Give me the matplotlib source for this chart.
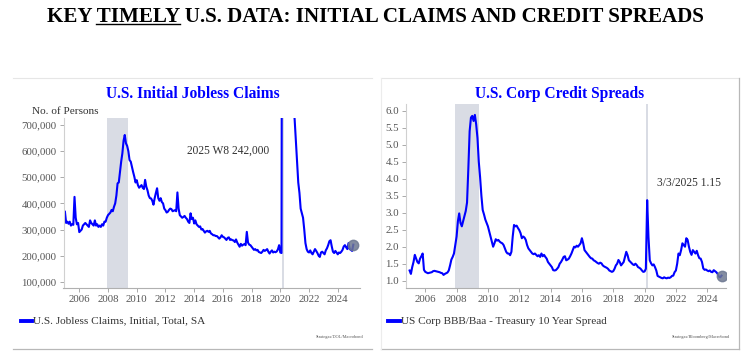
import numpy as np
import matplotlib
matplotlib.use("Agg")
import matplotlib.pyplot as plt
from matplotlib.lines import Line2D
from matplotlib.ticker import FuncFormatter

plt.rcParams["font.family"] = ["Liberation Serif", "DejaVu Serif"]

# --- data (monthly readings) ---
claims_start = 2005.0
claims_k = [
    368, 325, 330, 322, 330, 315, 320, 318, 425, 345, 320, 325,   # 2005
    290, 295, 300, 315, 320, 325, 320, 315, 310, 335, 325, 320,   # 2006
    315, 335, 315, 320, 310, 315, 310, 320, 315, 330, 330, 345,   # 2007
    355, 360, 365, 375, 370, 387, 400, 430, 477, 480, 520, 560,   # 2008
    592, 640, 662, 630, 620, 600, 566, 560, 540, 520, 502, 480,   # 2009
    489, 470, 460, 465, 470, 460, 455, 490, 464, 450, 430, 420,   # 2010
    419, 410, 395, 420, 440, 458, 420, 410, 420, 405, 400, 380,   # 2011
    374, 365, 368, 375, 380, 378, 370, 372, 374, 370, 442, 380,   # 2012
    355, 350, 345, 348, 352, 345, 340, 330, 325, 362, 340, 345,   # 2013
    323, 335, 320, 315, 310, 312, 300, 302, 295, 288, 293, 295,   # 2014
    291, 295, 285, 282, 278, 278, 275, 275, 270, 265, 270, 278,   # 2015
    272, 270, 265, 260, 268, 270, 260, 262, 259, 258, 252, 262,   # 2016
    250, 242, 234, 245, 238, 242, 244, 240, 291, 250, 242, 240,   # 2017
    234, 228, 222, 225, 220, 222, 214, 212, 210, 215, 222, 218,   # 2018
    221, 225, 215, 208, 215, 220, 212, 215, 213, 216, 224, 240,   # 2019
    212, 210, 3300, 5000, 2400, 1500, 1400, 1100, 900, 800, 760, 780,  # 2020
    720, 640, 560, 480, 440, 380, 363, 345, 300, 248, 225, 215,   # 2021
    212, 220, 210, 205, 215, 225, 218, 210, 200, 195, 212, 215,   # 2022
    210, 205, 220, 228, 240, 255, 259, 235, 215, 210, 218, 212,   # 2023
    205, 212, 210, 215, 222, 235, 240, 232, 225, 248, 225, 222,   # 2024
    218, 242,                                                     # 2025
]

spread_start = 2005.0
spread = [
    1.30, 1.20, 1.40, 1.55, 1.76, 1.65, 1.55, 1.51, 1.65, 1.72, 1.80, 1.32,  # 2005
    1.26, 1.24, 1.22, 1.23, 1.24, 1.25, 1.28, 1.29, 1.28, 1.27, 1.26, 1.25,  # 2006
    1.23, 1.22, 1.17, 1.20, 1.22, 1.24, 1.30, 1.45, 1.62, 1.70, 1.80, 2.05,  # 2007
    2.30, 2.75, 2.98, 2.70, 2.60, 2.75, 2.90, 3.05, 3.30, 4.30, 5.40, 5.80,  # 2008
    5.85, 5.70, 5.88, 5.60, 5.20, 4.50, 4.05, 3.50, 3.08, 2.95, 2.80, 2.70,  # 2009
    2.60, 2.45, 2.30, 2.15, 2.00, 2.10, 2.22, 2.18, 2.20, 2.15, 2.12, 2.10,  # 2010
    2.05, 1.95, 1.85, 1.80, 1.80, 1.75, 1.85, 2.30, 2.64, 2.60, 2.62, 2.55,  # 2011
    2.49, 2.40, 2.25, 2.30, 2.27, 2.20, 2.05, 1.95, 1.90, 1.85, 1.80, 1.78,  # 2012
    1.80, 1.76, 1.72, 1.75, 1.70, 1.80, 1.72, 1.76, 1.70, 1.65, 1.55, 1.50,  # 2013
    1.45, 1.40, 1.31, 1.30, 1.31, 1.35, 1.40, 1.50, 1.55, 1.62, 1.70, 1.72,  # 2014
    1.60, 1.62, 1.65, 1.72, 1.80, 1.90, 2.00, 1.98, 2.03, 2.00, 2.05, 2.10,  # 2015
    2.25, 2.10, 1.90, 1.85, 1.80, 1.75, 1.70, 1.66, 1.65, 1.60, 1.58, 1.55,  # 2016
    1.52, 1.50, 1.53, 1.51, 1.45, 1.42, 1.40, 1.38, 1.35, 1.30, 1.28, 1.26,  # 2017
    1.28, 1.35, 1.45, 1.50, 1.61, 1.55, 1.45, 1.50, 1.55, 1.70, 1.85, 1.75,  # 2018
    1.60, 1.56, 1.52, 1.48, 1.46, 1.50, 1.46, 1.40, 1.38, 1.35, 1.30, 1.26,  # 2019
    1.27, 1.35, 3.37, 2.29, 1.60, 1.51, 1.45, 1.48, 1.40, 1.30, 1.14, 1.12,  # 2020
    1.10, 1.08, 1.07, 1.10, 1.08, 1.07, 1.09, 1.08, 1.10, 1.14, 1.15, 1.25,  # 2021
    1.30, 1.50, 1.80, 1.75, 1.90, 2.10, 2.05, 2.00, 2.25, 2.20, 2.00, 1.85,  # 2022
    1.76, 1.90, 1.85, 1.80, 1.88, 1.75, 1.66, 1.65, 1.55, 1.36, 1.32, 1.33,  # 2023
    1.30, 1.28, 1.30, 1.26, 1.25, 1.31, 1.28, 1.25, 1.20, 1.12, 1.10, 1.15,  # 2024
]

recessions = [(2007.92, 2009.42), (2020.1, 2020.25)]
year_ticks = list(range(2006, 2026, 2))

claims_t = claims_start + np.arange(len(claims_k)) / 12
claims = np.array(claims_k) * 1000
spread_t = spread_start + np.arange(len(spread)) / 12
spread = np.array(spread)

W, H = 750, 357
BLUE = "#0000ff"
SHADE = "#d9dce4"
TICK_C = "#555555"

fig = plt.figure(figsize=(7.5, 3.57), dpi=100)


def fx(px):
    return px / W


def fy(py):
    return 1 - py / H


# panel frames
for x0, x1 in [(13, 372), (381, 739)]:
    fig.add_artist(Line2D([fx(x0), fx(x1)], [fy(78), fy(78)], color="#e6e6e6", lw=0.8))
    fig.add_artist(Line2D([fx(x0), fx(x1)], [fy(349), fy(349)], color="#b8b8b8", lw=0.9))
fig.add_artist(Line2D([fx(381), fx(381)], [fy(78), fy(349)], color="#ececec", lw=0.8))
fig.add_artist(Line2D([fx(739), fx(739)], [fy(78), fy(349)], color="#b8b8b8", lw=0.9))

# main title with underlined TIMELY
title = "KEY TIMELY U.S. DATA: INITIAL CLAIMS AND CREDIT SPREADS"
tkw = dict(fontsize=15.1, fontweight="bold", color="black")
t = fig.text(0.5, fy(17.5), title, ha="center", va="center", **tkw)
r = fig.canvas.get_renderer()
bb = t.get_window_extent(r)
m1 = fig.text(0, 0, "KEY TIMELY", **tkw)
m2 = fig.text(0, 0, "TIMELY", **tkw)
w1 = m1.get_window_extent(r).width
w2 = m2.get_window_extent(r).width
m1.remove()
m2.remove()
ux0 = bb.x0 + (w1 - w2)
ux1 = bb.x0 + w1
uy = bb.y0 + 3.5
fig.add_artist(Line2D([ux0 / W, ux1 / W], [uy / H, uy / H], color="black", lw=1.0))


def style(ax):
    for s in ("top", "right"):
        ax.spines[s].set_visible(False)
    ax.spines["left"].set_color("#d0d0d0")
    ax.spines["bottom"].set_color("#b0b0b0")
    ax.tick_params(axis="both", colors="#aaaaaa", labelcolor=TICK_C,
                   labelsize=7.8, length=3, width=0.7, pad=2)
    ax.set_xticks(year_ticks)
    ax.set_xticklabels([str(y) for y in year_ticks])
    for a, b in recessions:
        ax.axvspan(a, b, color=SHADE, lw=0, zorder=0)


# --- left: initial claims ---
ax1 = fig.add_axes([fx(63.5), fy(288), fx(360 - 63.5), 170 / H])
ax1.plot(claims_t, claims, color=BLUE, lw=1.5, zorder=2)
ax1.plot(claims_t[-1], claims[-1], "o", ms=7.5, color="#6d7891", alpha=0.85, zorder=3)
ax1.set_xlim(2004.9, 2025.55)
ax1.set_ylim(76000, 727000)
ax1.set_yticks(range(100000, 800000, 100000))
ax1.yaxis.set_major_formatter(FuncFormatter(lambda v, p: f"{int(v):,}"))
style(ax1)
ax1.text(2013.5, 600000, "2025 W8 242,000", fontsize=8.3, color="#333333",
         ha="left", va="center")

fig.text(fx(193), fy(94), "U.S. Initial Jobless Claims", ha="center", va="center",
         fontsize=11.2, fontweight="bold", color=BLUE)
fig.text(fx(32), fy(111), "No. of Persons", ha="left", va="center",
         fontsize=8.1, color="#333333")
fig.add_artist(Line2D([fx(21), fx(32)], [fy(321), fy(321)], color=BLUE, lw=2.8))
fig.text(fx(33), fy(321), "U.S. Jobless Claims, Initial, Total, SA", ha="left",
         va="center", fontsize=8.1, color="#333333")
fig.text(fx(363), fy(337), "Strategas/DOL/Macrobond", ha="right", va="center",
         fontsize=3.2, color="#555555")

# --- right: credit spreads ---
ax2 = fig.add_axes([fx(406), fy(288), fx(726 - 406), 184 / H])
ax2.plot(spread_t, spread, color=BLUE, lw=1.5, zorder=2)
ax2.plot(spread_t[-1], spread[-1], "o", ms=7.5, color="#6d7891", alpha=0.85, zorder=3)
ax2.set_xlim(2004.77, 2025.2)
ax2.set_ylim(0.785, 6.2)
ax2.set_yticks(np.arange(1.0, 6.01, 0.5))
ax2.yaxis.set_major_formatter(FuncFormatter(lambda v, p: f"{v:.1f}"))
style(ax2)
ax2.text(2020.8, 3.87, "3/3/2025 1.15", fontsize=8.3, color="#333333",
         ha="left", va="center")

fig.text(fx(560), fy(94), "U.S. Corp Credit Spreads", ha="center", va="center",
         fontsize=11.2, fontweight="bold", color=BLUE)
fig.add_artist(Line2D([fx(388), fx(400)], [fy(321), fy(321)], color=BLUE, lw=2.8))
fig.text(fx(401), fy(321), "US Corp BBB/Baa - Treasury 10 Year Spread", ha="left",
         va="center", fontsize=8.1, color="#333333")
fig.text(fx(730), fy(337), "Strategas/Bloomberg/Macrobond", ha="right", va="center",
         fontsize=3.2, color="#555555")

fig.savefig("out.png", dpi=100)
